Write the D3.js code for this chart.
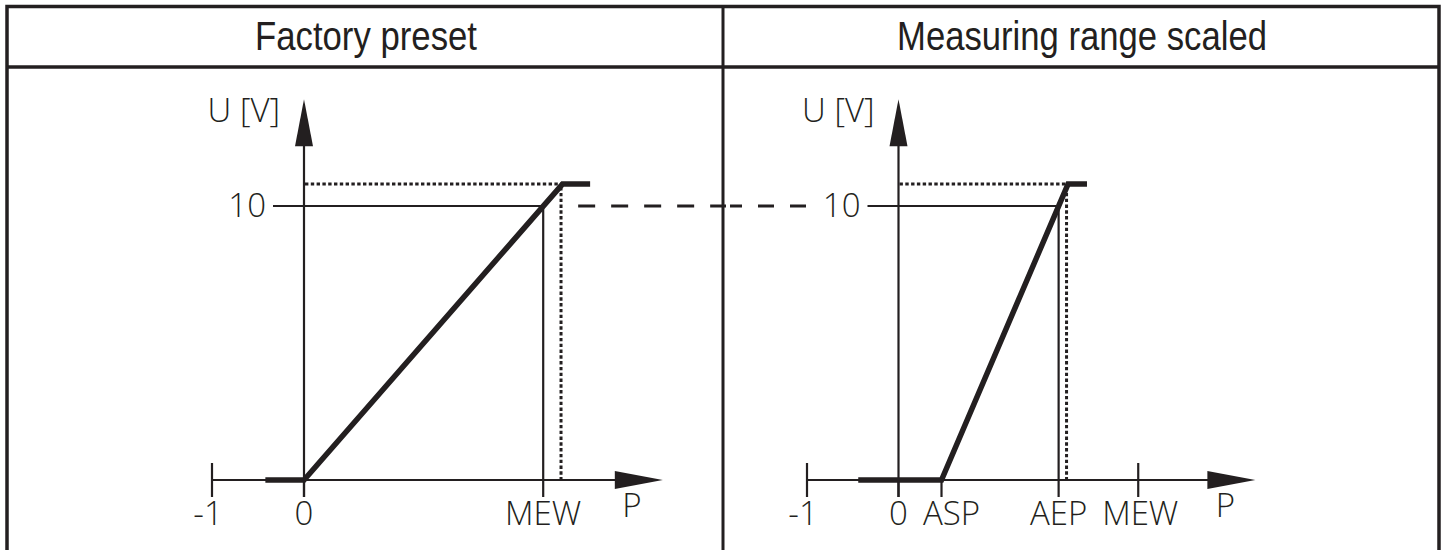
<!DOCTYPE html>
<html><head><meta charset="utf-8">
<script src="https://cdn.jsdelivr.net/npm/d3@7"></script>
<style>
html,body{margin:0;padding:0;background:#fff;}
svg{display:block;}
</style></head>
<body>
<svg id="c" width="1445" height="550"></svg>
<script>
// ---- data ----
const panelTitles = ["Factory preset", "Measuring range scaled"];
const leftTickLabels = ["-1", "0", "MEW"];
const leftTickValues = [-1, 0, 2.6];
const rightTickLabels = ["-1", "0", "ASP", "AEP", "MEW"];
const rightTickValues = [-1, 0, 0.47, 1.75, 2.62];
const leftCurveP = [-0.42, 0, 2.81, 3.11];
const leftCurveU = [0, 0, 10.8, 10.8];
const rightCurveP = [-0.44, 0.47, 1.853, 2.06];
const rightCurveU = [0, 0, 10.8, 10.8];
const yTickValue = 10, yTickLabel = "10";
const uSaturation = 10.8;
const yAxisLabel = "U [V]", xAxisLabel = "P";
const uAxisMax = 13.9, pAxisMax = 3.9;
const linkStartP = 2.98, linkEndP = -1.01;

const ink = "#231f20";
const svg = d3.select("#c");
const labelFont = "'Open Sans', 'DejaVu Sans', sans-serif";
const labelSize = 33;

// frame
const frame = svg.append("g").attr("fill", "none").attr("stroke", ink).attr("stroke-width", 3.5);
frame.append("path").attr("d", "M7,552 V6.5 H1439 V552");
frame.append("line").attr("x1", 7).attr("x2", 1439).attr("y1", 67).attr("y2", 67);
const divX = 723;
frame.append("line").attr("x1", divX).attr("x2", divX).attr("y1", 6.5).attr("y2", 552).attr("stroke-width", 3);

// titles
const titleX = [366, 1082], titleW = [222, 370];
panelTitles.forEach((t, i) => {
  svg.append("text").attr("x", titleX[i]).attr("y", 50)
    .attr("text-anchor", "middle")
    .attr("font-family", "'Liberation Sans Narrow', 'Liberation Sans', Arial, sans-serif")
    .attr("font-size", 40).attr("fill", ink)
    .attr("textLength", titleW[i]).attr("lengthAdjust", "spacingAndGlyphs")
    .text(t);
});

const y = d3.scaleLinear().domain([0, 10]).range([480, 206]);

const panels = [
  { x: d3.scaleLinear().domain([-1, 3]).range([212, 580]), ticks: leftTickValues, labels: leftTickLabels,
    curveP: leftCurveP, curveU: leftCurveU, drop: 2, labelDx: [-4, 0, 0], pLabelDx: -31 },
  { x: d3.scaleLinear().domain([-1, 3]).range([807, 1173]), ticks: rightTickValues, labels: rightTickLabels,
    curveP: rightCurveP, curveU: rightCurveU, drop: 3, labelDx: [-4, 0, 10, 0, 2], pLabelDx: -30 }
];

const thin = 2.2;
panels.forEach(p => {
  const g = svg.append("g");
  const x = p.x;
  const x0 = x(0), y0 = y(0);

  // dotted saturation guides
  const xs = x(p.curveP[2]);
  g.append("path").attr("fill", "none").attr("stroke", ink).attr("stroke-width", 3)
    .attr("stroke-dasharray", "3.4,2.4")
    .attr("d", `M${x0 + 1},${y(uSaturation)} H${xs}`);
  g.append("path").attr("fill", "none").attr("stroke", ink).attr("stroke-width", 3)
    .attr("stroke-dasharray", "3.4,2.4")
    .attr("d", `M${xs - 1.5},${y(uSaturation) + 3} V${y0 - 1}`);

  // y axis
  g.append("line").attr("x1", x0).attr("x2", x0).attr("y1", y0 + 17).attr("y2", y(uAxisMax) + 30)
    .attr("stroke", ink).attr("stroke-width", thin);
  const yt = y(uAxisMax);
  g.append("path").attr("fill", ink).attr("d", `M${x0},${yt} L${x0 + 9},${yt + 47} L${x0 - 9},${yt + 47} Z`);

  // x axis
  const xe = x(pAxisMax);
  g.append("line").attr("x1", x(-1)).attr("x2", xe - 30).attr("y1", y0).attr("y2", y0)
    .attr("stroke", ink).attr("stroke-width", thin);
  g.append("path").attr("fill", ink).attr("d", `M${xe},${y0} L${xe - 48},${y0 - 9} L${xe - 48},${y0 + 9} Z`);

  // ticks on x axis
  p.ticks.forEach((v, i) => {
    const tx = x(v);
    const both = (v === -1) || (i === p.ticks.length - 1 && p.drop === 3);
    const isDrop = i === p.drop;
    const top = isDrop ? y(yTickValue) : (both ? y0 - 17 : y0);
    g.append("line").attr("x1", tx).attr("x2", tx).attr("y1", top).attr("y2", y0 + 17)
      .attr("stroke", ink).attr("stroke-width", thin);
    g.append("text").attr("x", tx + p.labelDx[i]).attr("y", 525).attr("text-anchor", "middle")
      .attr("font-family", labelFont).attr("font-weight", 300).attr("font-size", labelSize).attr("fill", ink).text(p.labels[i]);
  });

  // 10 V reference line
  const xd = x(p.ticks[p.drop]);
  g.append("line").attr("x1", x0 - 31).attr("x2", xd).attr("y1", y(yTickValue)).attr("y2", y(yTickValue))
    .attr("stroke", ink).attr("stroke-width", thin);
  g.append("text").attr("x", x0 - 38).attr("y", y(yTickValue) + 11).attr("text-anchor", "end")
    .attr("font-family", labelFont).attr("font-weight", 300).attr("font-size", labelSize).attr("fill", ink).text(yTickLabel);

  // axis labels
  g.append("text").attr("x", x0 - 24).attr("y", 122).attr("text-anchor", "end")
    .attr("font-family", labelFont).attr("font-weight", 300).attr("font-size", labelSize).attr("fill", ink).text(yAxisLabel);
  g.append("text").attr("x", xe + p.pLabelDx).attr("y", 517).attr("text-anchor", "middle")
    .attr("font-family", labelFont).attr("font-weight", 300).attr("font-size", labelSize).attr("fill", ink).text(xAxisLabel);

  // characteristic curve
  const line = d3.line().x(d => x(d[0])).y(d => y(d[1]));
  g.append("path").datum(p.curveP.map((v, i) => [v, p.curveU[i]]))
    .attr("fill", "none").attr("stroke", ink).attr("stroke-width", 5.5)
    .attr("stroke-linejoin", "miter").attr("d", line);
});

// dashed link between panels (split at the divider)
const lx1 = panels[0].x(linkStartP), lx2 = panels[1].x(linkEndP), ly = y(yTickValue);
svg.append("line").attr("x1", lx1).attr("x2", divX + 3).attr("y1", ly).attr("y2", ly)
  .attr("stroke", ink).attr("stroke-width", 3).attr("stroke-dasharray", "17,16");
svg.append("line").attr("x1", divX + 7).attr("x2", lx2).attr("y1", ly).attr("y2", ly)
  .attr("stroke", ink).attr("stroke-width", 3).attr("stroke-dasharray", "16,16").attr("stroke-dashoffset", 4);
</script>
</body></html>
